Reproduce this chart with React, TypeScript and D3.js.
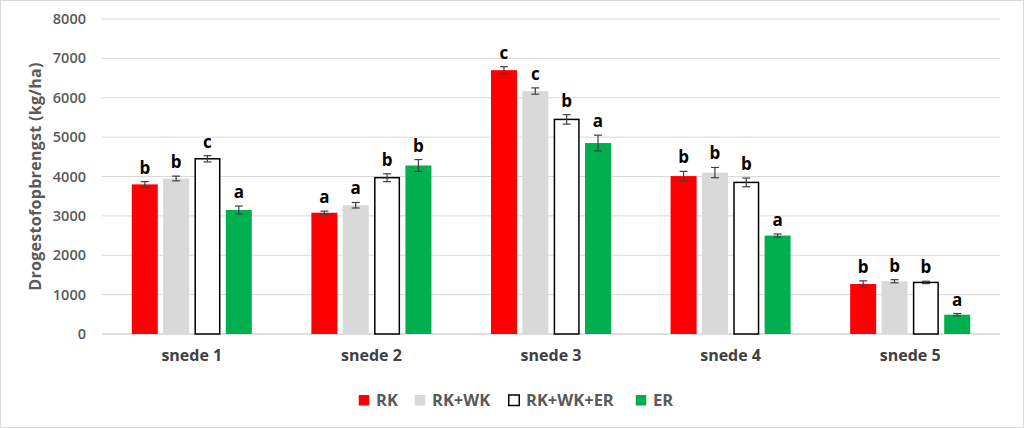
import { useEffect } from "react";
import * as d3 from "d3";

const cuts = ["snede 1", "snede 2", "snede 3", "snede 4", "snede 5"];
const treatments = ["RK", "RK+WK", "RK+WK+ER", "ER"];
const fills = ["#ff0000", "#d9d9d9", "#ffffff", "#00b050"];
const strokes = ["none", "none", "#000000", "none"];

const rk = [3800, 3080, 6700, 4010, 1270];
const rkwk = [3950, 3270, 6170, 4100, 1340];
const rkwker = [4450, 3970, 5450, 3850, 1310];
const er = [3150, 4280, 4850, 2500, 490];

const rkErr = [70, 40, 90, 120, 80];
const rkwkErr = [60, 70, 80, 130, 40];
const rkwkerErr = [80, 100, 120, 110, 30];
const erErr = [100, 150, 200, 40, 30];

const rkLetters = ["b", "a", "c", "b", "b"];
const rkwkLetters = ["b", "a", "c", "b", "b"];
const rkwkerLetters = ["c", "b", "b", "b", "b"];
const erLetters = ["a", "b", "a", "a", "a"];

const yTicks = [0, 1000, 2000, 3000, 4000, 5000, 6000, 7000, 8000];

const values = [rk, rkwk, rkwker, er];
const errors = [rkErr, rkwkErr, rkwkerErr, erErr];
const letters = [rkLetters, rkwkLetters, rkwkerLetters, erLetters];

const W = 1024;
const H = 428;
const font = "'Open Sans', sans-serif";

export default function App() {
  useEffect(() => {
    document.body.style.margin = "0";
  }, []);

  const x = d3.scaleBand().domain(cuts).range([102, 1000]).paddingInner(0).paddingOuter(0);
  const inner = d3
    .scaleBand()
    .domain(treatments)
    .range([0, x.bandwidth()])
    .paddingInner(0.17)
    .paddingOuter(0.95);
  const y = d3.scaleLinear().domain([0, 8000]).range([334, 19]);

  const legendX = [358, 414, 508, 635];

  return (
    <svg width={W} height={H} style={{ display: "block", background: "#fff" }}>
      <rect x={0.5} y={0.5} width={W - 1} height={H - 1} fill="none" stroke="#d9d9d9" />
      {yTicks.map((t) => (
        <g key={t}>
          {t > 0 && (
            <line x1={102} x2={1000} y1={y(t)} y2={y(t)} stroke="#d9d9d9" strokeWidth={1} />
          )}
          <text
            x={86}
            y={y(t)}
            dy="0.35em"
            textAnchor="end"
            fontFamily={font}
            fontSize={14.5}
            fontWeight={600}
            fill="#595959"
          >
            {t}
          </text>
        </g>
      ))}
      <line x1={102} x2={1000} y1={y(0)} y2={y(0)} stroke="#bfbfbf" strokeWidth={1} />
      <text
        transform={`translate(35,${(y(0) + y(8000)) / 2}) rotate(-90)`}
        dy="0.35em"
        textAnchor="middle"
        fontFamily={font}
        fontSize={16}
        fontWeight={700}
        letterSpacing={0.3}
        fill="#595959"
      >
        Drogestofopbrengst (kg/ha)
      </text>

      {cuts.map((c, ci) => (
        <g key={c} transform={`translate(${x(c)},0)`}>
          {treatments.map((tr, ti) => {
            const v = values[ti][ci];
            const e = errors[ti][ci];
            const bx = inner(tr)!;
            const bw = inner.bandwidth();
            const cx = bx + bw / 2;
            const isOutline = strokes[ti] !== "none";
            return (
              <g key={tr}>
                <rect
                  x={isOutline ? bx + 0.75 : bx}
                  y={y(v)}
                  width={isOutline ? bw - 1.5 : bw}
                  height={y(0) - y(v)}
                  fill={fills[ti]}
                  stroke={strokes[ti]}
                  strokeWidth={isOutline ? 1.5 : 0}
                />
                <g stroke="#404040" strokeWidth={1.2}>
                  <line x1={cx} x2={cx} y1={y(v + e)} y2={y(v - e)} />
                  <line x1={cx - 4} x2={cx + 4} y1={y(v + e)} y2={y(v + e)} />
                  <line x1={cx - 4} x2={cx + 4} y1={y(v - e)} y2={y(v - e)} />
                </g>
                <text
                  x={cx}
                  y={y(v + e) - 8}
                  textAnchor="middle"
                  fontFamily={font}
                  fontSize={17}
                  fontWeight={700}
                  fill="#000"
                >
                  {letters[ti][ci]}
                </text>
              </g>
            );
          })}
          <text
            x={x.bandwidth() / 2}
            y={361}
            textAnchor="middle"
            fontFamily={font}
            fontSize={16}
            fontWeight={700}
            fill="#404040"
          >
            {c}
          </text>
        </g>
      ))}

      {treatments.map((tr, ti) => (
        <g key={tr} transform={`translate(${legendX[ti]},0)`}>
          <rect
            x={0.75}
            y={395}
            width={10.5}
            height={10.5}
            fill={fills[ti]}
            stroke={strokes[ti]}
            strokeWidth={strokes[ti] === "none" ? 0 : 1.5}
          />
          <text
            x={18}
            y={400.5}
            dy="0.36em"
            fontFamily={font}
            fontSize={16.5}
            fontWeight={700}
            fill="#595959"
          >
            {tr}
          </text>
        </g>
      ))}
    </svg>
  );
}
